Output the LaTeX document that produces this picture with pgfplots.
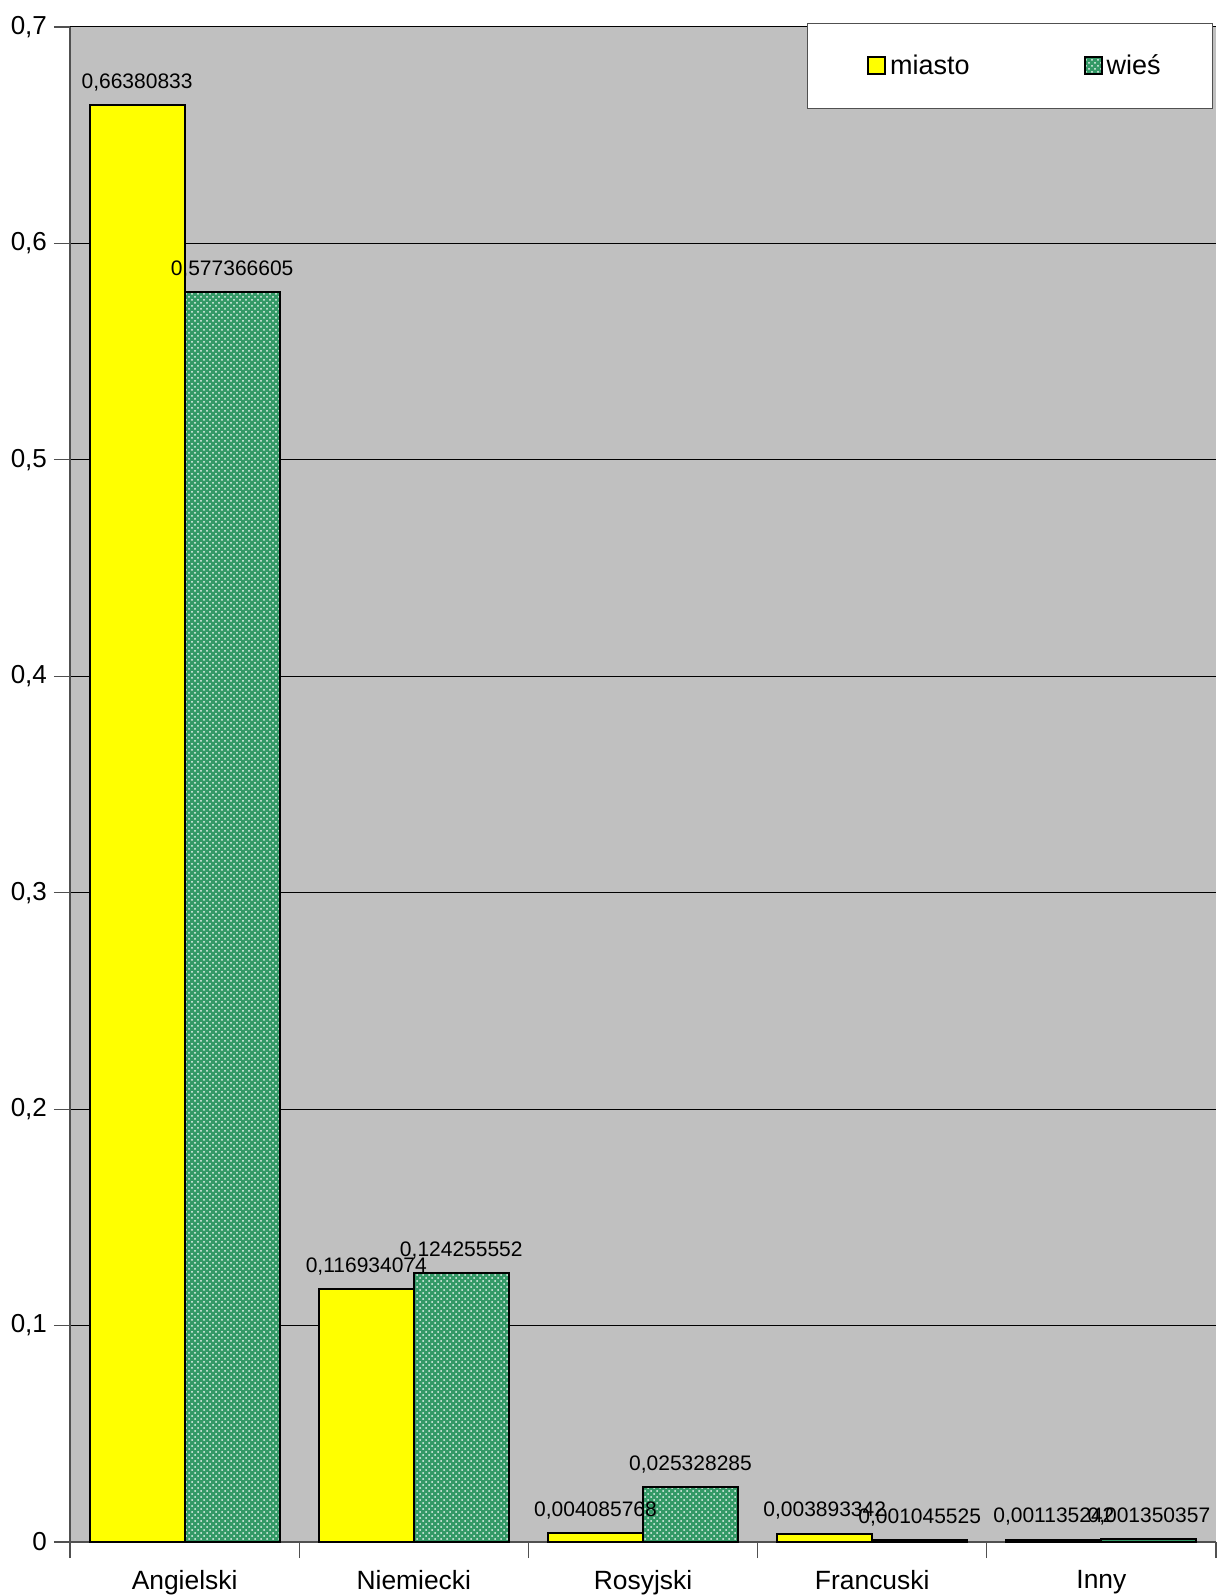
\documentclass[border=0pt]{standalone}
\usepackage{pgfplots}
\pgfplotsset{compat=1.18}
\usepackage{fontspec}
\setmainfont{Liberation Sans}
\usetikzlibrary{patterns}
\definecolor{bggray}{RGB}{192,192,192}
\definecolor{barY}{RGB}{255,255,0}
\definecolor{barG}{RGB}{51,153,102}
\definecolor{axgray}{RGB}{80,80,80}
\begin{document}
\begin{tikzpicture}
\useasboundingbox (-35pt,-27pt) rectangle (573pt,771pt);
\begin{axis}[
  at={(0pt,0pt)}, anchor=south west,
  scale only axis, width=573pt, height=757.5pt,
  ybar=0pt, bar width=47.5pt,
  xmin=-0.5, xmax=4.5, ymin=0, ymax=0.7,
  xtick={0,1,2,3,4},
  xticklabels={Angielski,Niemiecki,Rosyjski,Francuski,Inny},
  minor xtick={-0.5,0.5,1.5,2.5,3.5,4.5},
  major x tick style={draw=none},
  minor tick length=8pt,
  ytick={0,0.1,...,0.7},
  major tick length=8pt,
  tick align=outside,
  tick style={axgray, line width=0.6pt},
  x tick label style={font=\fontsize{13.2}{14}\selectfont, yshift=-2.5pt},
  y tick label style={font=\fontsize{13}{14}\selectfont},
  yticklabel style={/pgf/number format/.cd, use comma, fixed, assume math mode=true},
  axis x line*=bottom, axis y line*=left,
  axis line style={axgray, line width=0.8pt, -},
  axis background/.style={fill=bggray},
  ymajorgrids, grid style={black, line width=0.5pt},
  nodes near coords, point meta=explicit symbolic,
  every node near coord/.append style={font=\fontsize{10.5}{12}\selectfont, black, inner sep=2pt, yshift=4.5pt},
  legend columns=2,
  legend style={at={(axis description cs:1,1)}, anchor=north east, xshift=-1.5pt, yshift=2pt,
    draw=axgray, fill=white, inner xsep=24pt, inner ysep=13.5pt,
    font=\fontsize{13.5}{15}\selectfont,
    /tikz/every even column/.append style={column sep=49pt}},
  legend image code/.code={\path (-6pt,0pt); \draw[#1] (0pt,-4pt) rectangle (8.5pt,4.5pt);},
]
\addplot[fill=barY, draw=black, line width=1pt] table[x=x, y=y, meta=l] {
x y l
0 0.66380833 0,66380833
1 0.116934074 0,116934074
2 0.004085768 0,004085768
3 0.003893342 0,003893342
4 0.001135242 0,001135242
};
\addlegendentry{miasto}
\addplot[fill=barG, draw=black, line width=1pt, postaction={pattern=crosshatch dots, pattern color=white!90!barG}] table[x=x, y=y, meta=l] {
x y l
0 0.577366605 0,577366605
1 0.124255552 0,124255552
2 0.025328285 0,025328285
3 0.001045525 0,001045525
4 0.001350357 0,001350357
};
\addlegendentry{wieś}
\end{axis}
\end{tikzpicture}
\end{document}
